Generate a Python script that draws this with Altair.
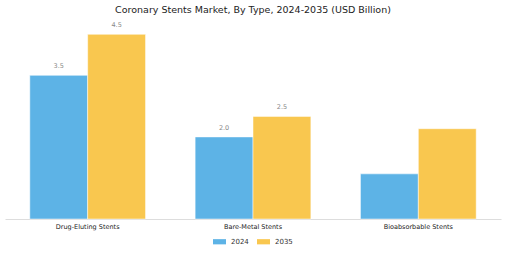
import altair as alt
import pandas as pd

categories = ["Drug-Eluting Stents", "Bare-Metal Stents", "Bioabsorbable Stents"]
years = ["2024", "2035"]
values_2024 = [3.5, 2.0, 1.1]
values_2035 = [4.5, 2.5, 2.2]
labels_2024 = ["3.5", "2.0", ""]
labels_2035 = ["4.5", "2.5", ""]
colors = ["#5DB3E6", "#F9C74F"]

rows = []
for c, v, l in zip(categories, values_2024, labels_2024):
    rows.append({"cat": c, "year": "2024", "value": v, "label": l})
for c, v, l in zip(categories, values_2035, labels_2035):
    rows.append({"cat": c, "year": "2035", "value": v, "label": l})
df = pd.DataFrame(rows)

FONT = "DejaVu Sans"

x = alt.X("cat:N", sort=categories, title=None,
          scale=alt.Scale(paddingInner=0.3, paddingOuter=0.15),
          axis=alt.Axis(labelAngle=0, ticks=False, labelPadding=4, labelFontSize=6.5,
                        labelColor="#222", labelFont=FONT, domainColor="#dddddd",
                        domainWidth=1))
xo = alt.XOffset("year:N", sort=years)
y = alt.Y("value:Q", scale=alt.Scale(domain=[0, 4.8], nice=False), axis=None)

bars = alt.Chart(df).mark_bar(stroke="white", strokeWidth=0.5).encode(
    x=x, xOffset=xo, y=y,
    color=alt.Color("year:N", sort=years,
                    scale=alt.Scale(domain=years, range=colors),
                    legend=alt.Legend(title=None, orient="none", legendX=208, legendY=213,
                                      direction="horizontal", columns=2,
                                      symbolType="M-1,-0.4L1,-0.4L1,0.4L-1,0.4Z",
                                      symbolSize=169, symbolStrokeWidth=0,
                                      labelFontSize=7, labelFont=FONT, labelColor="#333",
                                      labelOffset=5, columnPadding=8, symbolOffset=0)),
)

text = alt.Chart(df).mark_text(baseline="bottom", dy=-6, fontSize=6.5, color="#888888",
                               font=FONT).encode(
    x=x, xOffset=xo, y=y, text="label:N"
)

chart = (bars + text).properties(
    width=496, height=197,
    autosize=alt.AutoSizeParams(type="none"),
    padding={"left": 5, "top": 22, "right": 4, "bottom": 34},
    title=alt.TitleParams("Coronary Stents Market, By Type, 2024-2035 (USD Billion)",
                          fontSize=9.5, font=FONT, fontWeight="normal", color="#222",
                          anchor="middle", offset=8),
).configure_view(stroke=None)

chart.save("out.html", embed_options={"renderer": "svg", "actions": False})
